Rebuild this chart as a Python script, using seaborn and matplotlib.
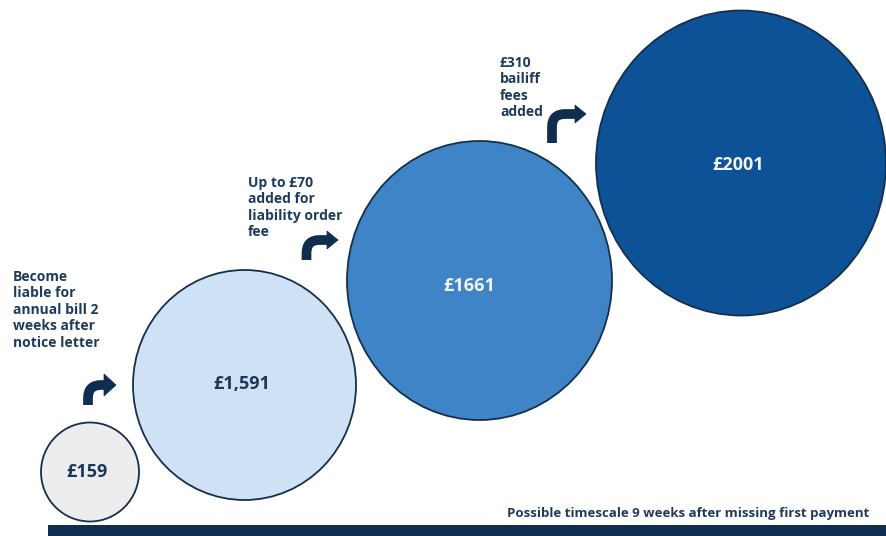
import matplotlib
matplotlib.use("Agg")
import matplotlib.pyplot as plt
from matplotlib.patches import Ellipse, Polygon, Rectangle, PathPatch
from matplotlib.path import Path
import seaborn as sns

# Stages of the council tax arrears escalation
amounts = [159, 1591, 1661, 2001]
amount_labels = ["£159", "£1,591", "£1661", "£2001"]
step_notes = [
    "Become\nliable for\nannual bill 2\nweeks after\nnotice letter",
    "Up to £70\nadded for\nliability order\nfee",
    "£310\nbailiff\nfees\nadded",
]
footer = "Possible timescale 9 weeks after missing first payment"

# Layout (pixel space of an 886x536 canvas)
circle_centers = [(90, 472), (244.5, 385), (479.5, 280.5), (741, 163)]
circle_radii = [(49, 49.5), (111.5, 115), (132.5, 139.5), (145, 152.5)]
label_pos = [(87, 472), (242, 384), (469, 286), (738.5, 164.5)]
fills = ["#ededee", "#cfe1f4", "#3e84c6", "#0d5196"]
text_cols = ["#1b3857", "#1b3857", "#f2f4f7", "#f2f4f7"]
note_pos = [(13, 270), (248, 176), (500, 56)]
# arrows: shaft x, shaft bottom, turn height, head base x, tip x, head half-height
arrows = [(88, 405, 385, 104, 116, 11),
          (306.5, 260, 240, 327, 338, 9),
          (552, 143, 114, 575, 586, 9)]

navy = "#0f2e4f"
ink = "#1f3b5c"

sns.set_theme(style="white")
plt.rcParams["font.family"] = ["Open Sans", "DejaVu Sans"]

fig = plt.figure(figsize=(8.86, 5.36), dpi=100)
ax = fig.add_axes([0, 0, 1, 1])
ax.set_xlim(0, 886)
ax.set_ylim(536, 0)
ax.axis("off")

# Bottom timeline bar
ax.add_patch(Rectangle((48, 525), 886 - 48, 11, color=navy, lw=0, zorder=1))
ax.text(869, 513.5, footer, ha="right", va="center", fontsize=9.5,
        fontweight="bold", color=ink)

for (cx, cy), (rx, ry), fc, (lx, ly), lab, tc in zip(
        circle_centers, circle_radii, fills, label_pos, amount_labels, text_cols):
    ax.add_patch(Ellipse((cx, cy), 2 * rx, 2 * ry, facecolor=fc,
                         edgecolor="#15304c", lw=1.3, zorder=2))
    ax.text(lx, ly, lab, ha="center", va="center", fontsize=13,
            fontweight="bold", color=tc, zorder=3)

for (nx, ny), note in zip(note_pos, step_notes):
    ax.text(nx, ny, note, ha="left", va="top", fontsize=10, fontweight="bold",
            color=ink, linespacing=1.22)

for x0, yb, yt, xb, xt, h in arrows:
    r = 13
    verts = [(x0, yb), (x0, yt + r), (x0, yt), (x0 + r, yt), (xb + 1, yt)]
    codes = [Path.MOVETO, Path.LINETO, Path.CURVE3, Path.CURVE3, Path.LINETO]
    ax.add_patch(PathPatch(Path(verts, codes), facecolor="none", edgecolor=navy,
                           lw=7, capstyle="butt", joinstyle="miter", zorder=3))
    ax.add_patch(Polygon([(xb, yt - h), (xt, yt), (xb, yt + h)], closed=True,
                         facecolor=navy, edgecolor=navy, lw=0.5, zorder=3))

fig.savefig("out.png", dpi=100, facecolor="white")
